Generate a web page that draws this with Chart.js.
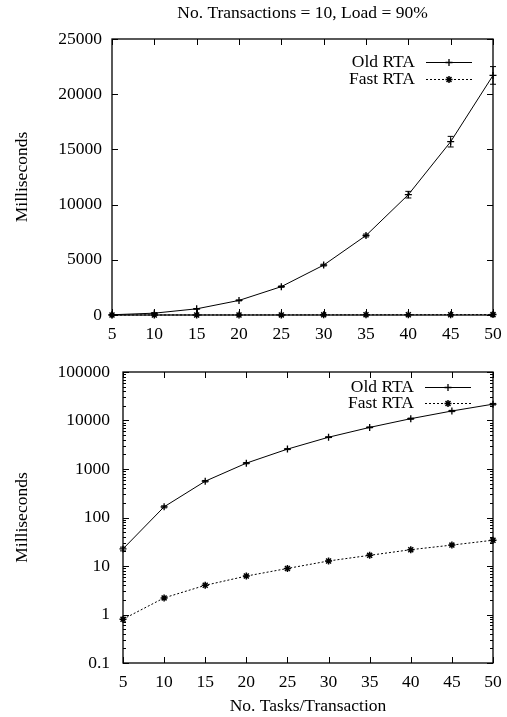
<!DOCTYPE html>
<html>
<head>
<meta charset="utf-8">
<script src="https://cdn.jsdelivr.net/npm/chart.js@4.4.1/dist/chart.umd.min.js"></script>
<style>
    html, body { margin: 0; padding: 0; background: #fff; }
    #wrap { position: relative; width: 507px; height: 717px; }
    #topChart { position: absolute; left: 0; top: 0; }
    #bottomChart { position: absolute; left: 0; top: 345px; }
</style>
</head>
<body>
<div id="wrap">
    <canvas id="topChart" width="507" height="345"></canvas>
    <canvas id="bottomChart" width="507" height="372"></canvas>
</div>
<script>
// data
const tasks = [5, 10, 15, 20, 25, 30, 35, 40, 45, 50];
const oldRTA = [22.5, 166, 560, 1320, 2570, 4520, 7200, 10900, 15700, 21700];
const oldErr = [2, 8, 20, 40, 60, 80, 130, 300, 480, 800];
const fastRTA = [0.8, 2.2, 4.0, 6.2, 8.9, 12.7, 16.6, 21.7, 27, 34];
const linTicks = [0, 5000, 10000, 15000, 20000, 25000];
const logTicks = [0.1, 1, 10, 100, 1000, 10000, 100000];
const titleText = 'No. Transactions = 10, Load = 90%';
const xTitle = 'No. Tasks/Transaction';
const yTitle = 'Milliseconds';

const FONT = "'Liberation Serif', 'Times New Roman', serif";
const FSIZE = 17.5;

const minorLog = [];
for (let e = -1; e < 5; e++) {
    for (let m = 2; m <= 9; m++) minorLog.push(m * Math.pow(10, e));
}

const toPts = vals => tasks.map((x, i) => ({ x: x, y: vals[i] }));

// gnuplot style frame with inward ticks on all sides
const gnuFrame = {
    id: 'gnuFrame',
    afterDatasetsDraw(chart, args, opts) {
        const { ctx, chartArea: a, scales } = chart;
        ctx.save();
        ctx.strokeStyle = '#000';
        ctx.lineWidth = 1;
        const seg = (x1, y1, x2, y2) => {
            ctx.beginPath(); ctx.moveTo(x1, y1); ctx.lineTo(x2, y2); ctx.stroke();
        };
        scales.x.ticks.forEach(t => {
            const px = Math.round(scales.x.getPixelForValue(t.value)) + 0.5;
            seg(px, a.bottom, px, a.bottom - 6);
            seg(px, a.top, px, a.top + 6);
        });
        scales.y.ticks.forEach(t => {
            const py = Math.round(scales.y.getPixelForValue(t.value)) + 0.5;
            seg(a.left, py, a.left + 6, py);
            seg(a.right, py, a.right - 6, py);
        });
        (opts.minor || []).forEach(v => {
            const py = Math.round(scales.y.getPixelForValue(v)) + 0.5;
            seg(a.left, py, a.left + 3, py);
            seg(a.right, py, a.right - 3, py);
        });
        ctx.lineWidth = 1.3;
        ctx.strokeRect(a.left, a.top, a.right - a.left, a.bottom - a.top);
        ctx.restore();
    }
};

const errorBars = {
    id: 'errorBars',
    afterDatasetsDraw(chart) {
        const { ctx } = chart;
        const y = chart.scales.y;
        ctx.save();
        ctx.strokeStyle = '#000';
        ctx.lineWidth = 1;
        chart.data.datasets.forEach((ds, di) => {
            if (!ds.errorBars) return;
            const meta = chart.getDatasetMeta(di);
            meta.data.forEach((pt, i) => {
                const v = ds.data[i].y, e = ds.errorBars[i];
                const y1 = y.getPixelForValue(v + e);
                const y2 = y.getPixelForValue(Math.max(v - e, 1e-6));
                ctx.beginPath();
                ctx.moveTo(pt.x, y1); ctx.lineTo(pt.x, y2);
                ctx.moveTo(pt.x - 3, y1); ctx.lineTo(pt.x + 3, y1);
                ctx.moveTo(pt.x - 3, y2); ctx.lineTo(pt.x + 3, y2);
                ctx.stroke();
            });
        });
        ctx.restore();
    }
};

const gnuLegend = {
    id: 'gnuLegend',
    afterDraw(chart, args, opts) {
        if (!opts.x) return;
        const { ctx } = chart;
        ctx.save();
        ctx.font = FSIZE + 'px ' + FONT;
        ctx.fillStyle = '#000';
        ctx.strokeStyle = '#000';
        ctx.textAlign = 'right';
        ctx.textBaseline = 'middle';
        chart.data.datasets.forEach((ds, i) => {
            const yy = opts.y + i * opts.dy;
            ctx.fillText(ds.label, opts.x, yy);
            ctx.lineWidth = 1;
            ctx.setLineDash(ds.borderDash || []);
            ctx.beginPath();
            ctx.moveTo(opts.x + 11, yy + 0.5);
            ctx.lineTo(opts.x + 57, yy + 0.5);
            ctx.stroke();
            ctx.setLineDash([]);
            ctx.lineWidth = ds.pointBorderWidth;
            Chart.helpers.drawPoint(ctx, {
                pointStyle: ds.pointStyle, radius: ds.pointRadius,
                borderWidth: ds.pointBorderWidth, rotation: 0
            }, opts.x + 34, yy + 0.5);
        });
        if (opts.title) {
            ctx.textAlign = 'center';
            const a = chart.chartArea;
            ctx.fillText(opts.title, (a.left + a.right) / 2, 13);
        }
        ctx.restore();
    }
};

function datasets() {
    return [{
        label: 'Old RTA',
        data: toPts(oldRTA),
        errorBars: oldErr,
        borderColor: '#000',
        backgroundColor: '#000',
        borderWidth: 1,
        pointStyle: 'cross',
        pointRadius: 3.5,
        pointBorderWidth: 1.3,
        clip: false
    }, {
        label: 'Fast RTA',
        data: toPts(fastRTA),
        borderColor: '#000',
        backgroundColor: '#000',
        borderWidth: 1,
        borderDash: [2, 2],
        pointStyle: 'star',
        pointRadius: 3.5,
        pointBorderWidth: 1.5,
        clip: false
    }];
}

function makeChart(id, cfg) {
    const tickFont = { family: FONT, size: FSIZE };
    return new Chart(document.getElementById(id), {
        type: 'line',
        data: { datasets: datasets() },
        plugins: [gnuFrame, errorBars, gnuLegend],
        options: {
            responsive: false,
            animation: false,
            layout: { padding: { top: cfg.top, right: 14, left: 0, bottom: 0 } },
            plugins: {
                legend: { display: false },
                tooltip: { enabled: false },
                gnuFrame: { minor: cfg.minor },
                gnuLegend: cfg.legend
            },
            scales: {
                x: {
                    type: 'linear',
                    min: 5, max: 50,
                    afterBuildTicks: s => { s.ticks = tasks.map(v => ({ value: v })); },
                    afterFit: s => {
                        s.height = cfg.xHeight;
                        s.paddingRight = 0;
                        s.paddingLeft = 0;
                    },
                    grid: { display: false, drawTicks: false },
                    border: { display: false },
                    ticks: { color: '#000', font: tickFont, padding: 9, maxRotation: 0, autoSkip: false },
                    title: {
                        display: !!cfg.xTitle, text: xTitle, color: '#000',
                        font: tickFont, padding: { top: 0, bottom: 0 }
                    }
                },
                y: {
                    type: cfg.yType,
                    min: cfg.yMin, max: cfg.yMax,
                    afterBuildTicks: s => { s.ticks = cfg.yTicks.map(v => ({ value: v })); },
                    afterFit: s => { s.width = cfg.yWidth; },
                    grid: { display: false, drawTicks: false },
                    border: { display: false },
                    ticks: {
                        color: '#000', font: tickFont, padding: cfg.yPad, autoSkip: false,
                        callback: v => String(v)
                    },
                    title: {
                        display: true, text: yTitle, color: '#000',
                        font: tickFont, padding: { top: 12, bottom: 0 }
                    }
                }
            }
        }
    });
}

makeChart('topChart', {
    top: 39, xHeight: 30, yWidth: 112, yPad: 10,
    yType: 'linear', yMin: 0, yMax: 25000, yTicks: linTicks,
    legend: { x: 415, y: 62, dy: 17, title: titleText }
});

makeChart('bottomChart', {
    top: 27, xHeight: 54, yWidth: 123, yPad: 13, xTitle: true,
    yType: 'logarithmic', yMin: 0.1, yMax: 100000, yTicks: logTicks, minor: minorLog,
    legend: { x: 414, y: 42, dy: 16 }
});
</script>
</body>
</html>
